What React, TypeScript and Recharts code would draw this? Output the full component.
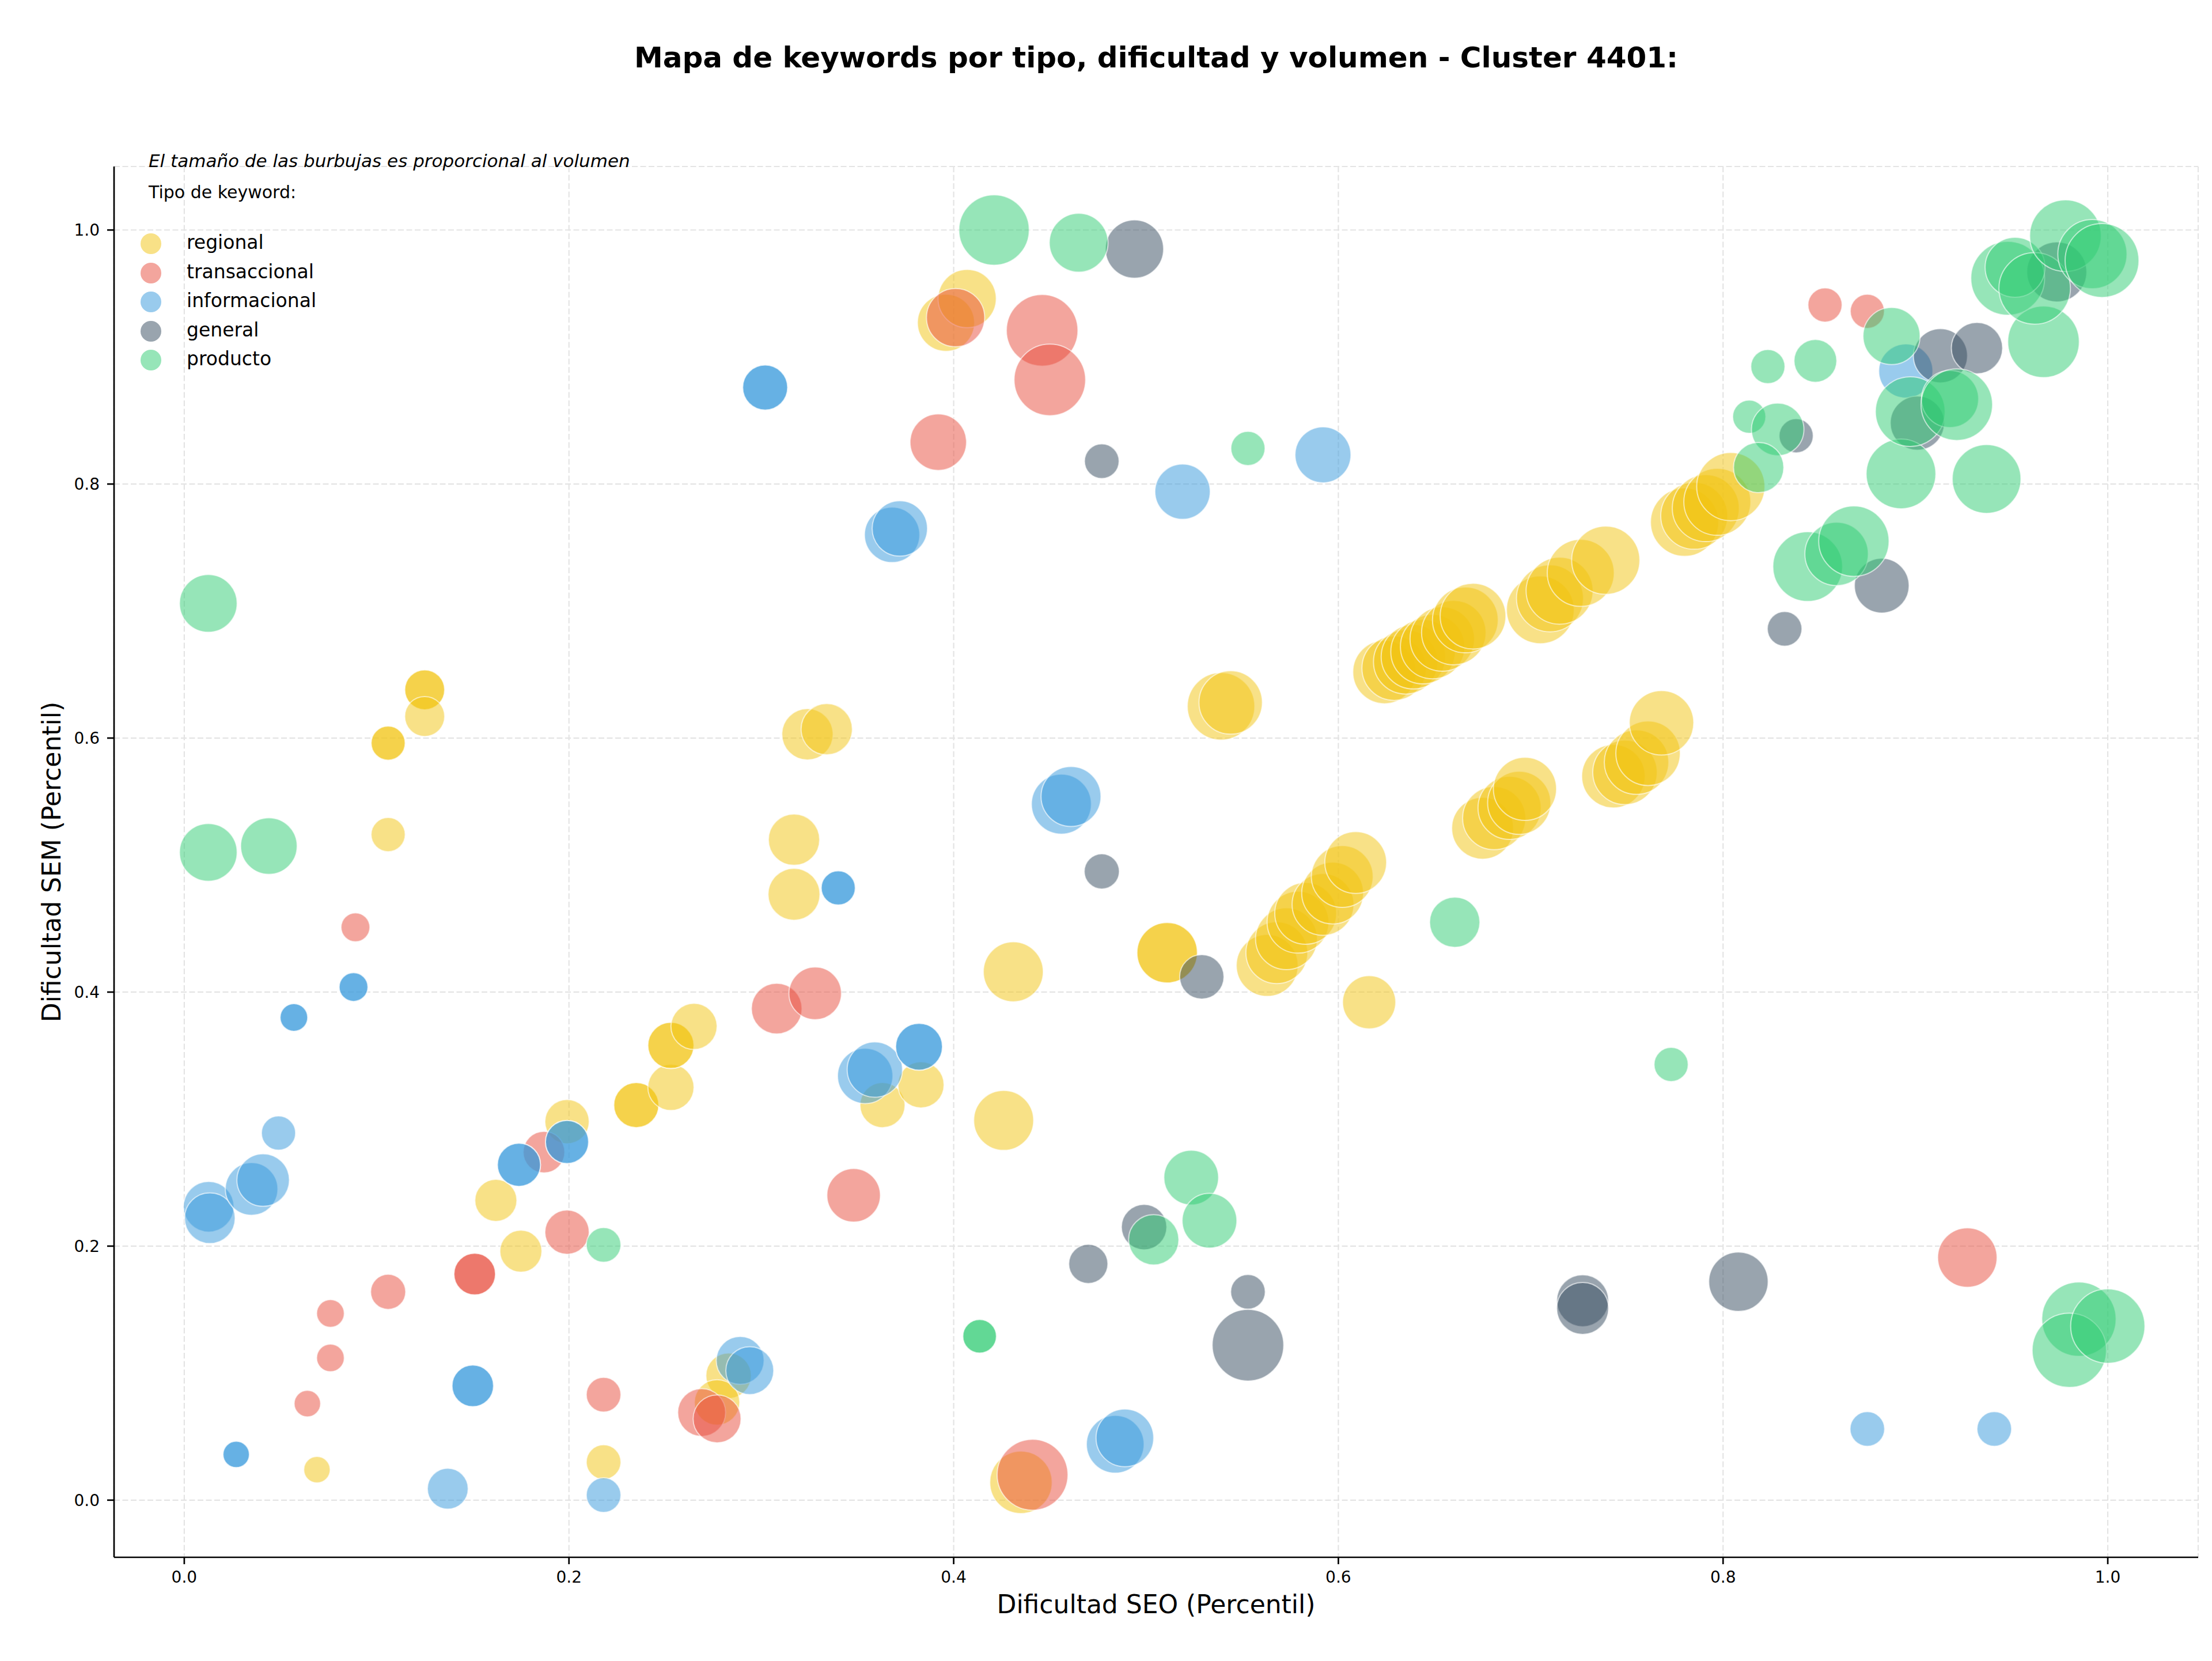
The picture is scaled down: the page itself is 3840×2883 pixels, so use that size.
import React from "react";
import {
  ScatterChart,
  Scatter,
  XAxis,
  YAxis,
  ZAxis,
  CartesianGrid,
  Legend,
} from "recharts";

// [dificultad SEO, dificultad SEM, volumen]
type Kw = [number, number, number];

const REGIONAL: Kw[] = [
  [0.069, 0.024, 210], [0.106, 0.596, 350], [0.106, 0.596, 350], [0.106, 0.524, 350],
  [0.125, 0.638, 480], [0.125, 0.638, 480], [0.125, 0.617, 480], [0.162, 0.236, 530],
  [0.175, 0.196, 530], [0.199, 0.298, 590], [0.235, 0.311, 610], [0.235, 0.311, 610],
  [0.253, 0.325, 640], [0.253, 0.358, 640], [0.253, 0.358, 640], [0.265, 0.373, 640],
  [0.283, 0.098, 620], [0.277, 0.077, 620], [0.218, 0.030, 360], [0.317, 0.520, 790],
  [0.317, 0.477, 810], [0.324, 0.603, 790], [0.334, 0.607, 790], [0.363, 0.311, 610],
  [0.383, 0.327, 640], [0.396, 0.927, 980], [0.407, 0.946, 1020], [0.426, 0.299, 1080],
  [0.431, 0.416, 1080], [0.435, 0.014, 1170], [0.511, 0.431, 1100], [0.511, 0.431, 1100],
  [0.539, 0.625, 1370], [0.544, 0.628, 1210], [0.616, 0.392, 850],
  [0.563, 0.421, 1150], [0.568, 0.431, 1150], [0.573, 0.442, 1150], [0.579, 0.455, 1150],
  [0.583, 0.462, 1150], [0.592, 0.469, 1150], [0.597, 0.478, 1150], [0.602, 0.491, 1150],
  [0.609, 0.502, 1150],
  [0.675, 0.529, 1150], [0.681, 0.537, 1200], [0.689, 0.545, 1200], [0.694, 0.549, 1200],
  [0.697, 0.560, 1200],
  [0.743, 0.570, 1210], [0.749, 0.573, 1250], [0.755, 0.581, 1250], [0.761, 0.588, 1250],
  [0.768, 0.612, 1250],
  [0.624, 0.652, 1210], [0.629, 0.655, 1250], [0.635, 0.660, 1250], [0.639, 0.664, 1250],
  [0.644, 0.668, 1250], [0.649, 0.672, 1250], [0.654, 0.678, 1250], [0.660, 0.683, 1250],
  [0.666, 0.693, 1300], [0.670, 0.696, 1300],
  [0.705, 0.701, 1380], [0.710, 0.710, 1350], [0.715, 0.716, 1350], [0.726, 0.730, 1350],
  [0.739, 0.740, 1400],
  [0.780, 0.770, 1400], [0.785, 0.775, 1350], [0.791, 0.781, 1350], [0.797, 0.786, 1350],
  [0.804, 0.798, 1400],
];

const TRANSACCIONAL: Kw[] = [
  [0.064, 0.076, 210], [0.076, 0.112, 230], [0.076, 0.147, 230], [0.089, 0.451, 250],
  [0.106, 0.164, 370], [0.151, 0.178, 520], [0.151, 0.178, 520], [0.187, 0.274, 520],
  [0.199, 0.211, 590], [0.218, 0.083, 360], [0.269, 0.069, 690], [0.277, 0.064, 690],
  [0.308, 0.387, 770], [0.328, 0.399, 830], [0.348, 0.240, 860], [0.392, 0.833, 960],
  [0.401, 0.931, 1020], [0.446, 0.921, 1540], [0.450, 0.882, 1540], [0.441, 0.020, 1510],
  [0.853, 0.941, 350], [0.875, 0.936, 350], [0.927, 0.191, 1060],
];

const INFORMACIONAL: Kw[] = [
  [0.027, 0.036, 210], [0.027, 0.036, 210], [0.057, 0.380, 230], [0.057, 0.380, 230],
  [0.088, 0.404, 250], [0.088, 0.404, 250], [0.049, 0.289, 350],
  [0.0127, 0.231, 770], [0.0133, 0.222, 770], [0.035, 0.245, 830], [0.041, 0.252, 830],
  [0.137, 0.009, 500], [0.150, 0.090, 520], [0.150, 0.090, 520],
  [0.174, 0.264, 560], [0.174, 0.264, 560], [0.199, 0.282, 560], [0.199, 0.282, 560],
  [0.218, 0.004, 360], [0.289, 0.110, 690], [0.294, 0.102, 690],
  [0.302, 0.876, 610], [0.302, 0.876, 610], [0.340, 0.482, 350], [0.340, 0.482, 350],
  [0.354, 0.334, 920], [0.359, 0.339, 920], [0.382, 0.357, 660], [0.382, 0.357, 660],
  [0.368, 0.760, 920], [0.372, 0.765, 920], [0.456, 0.548, 1080], [0.461, 0.554, 1080],
  [0.519, 0.794, 920], [0.592, 0.823, 940], [0.484, 0.044, 1000], [0.489, 0.049, 1000],
  [0.875, 0.056, 360], [0.941, 0.056, 360], [0.895, 0.889, 880],
];

const GENERAL: Kw[] = [
  [0.477, 0.818, 360], [0.494, 0.985, 1020], [0.477, 0.495, 370], [0.529, 0.412, 590],
  [0.470, 0.186, 460], [0.499, 0.215, 620], [0.553, 0.164, 360], [0.553, 0.122, 1540],
  [0.727, 0.157, 810], [0.727, 0.151, 810], [0.808, 0.172, 1060], [0.832, 0.686, 360],
  [0.838, 0.838, 350], [0.8825, 0.720, 900], [0.901, 0.848, 880], [0.913, 0.901, 880],
  [0.932, 0.907, 790], [0.9735, 0.967, 1080],
];

const PRODUCTO: Kw[] = [
  [0.0125, 0.706, 1000], [0.0125, 0.510, 1000], [0.044, 0.515, 960], [0.218, 0.201, 360],
  [0.4135, 0.129, 340], [0.4135, 0.129, 340], [0.421, 1.0, 1490], [0.465, 0.990, 1040],
  [0.553, 0.828, 350], [0.5235, 0.254, 900], [0.533, 0.220, 900], [0.504, 0.205, 760],
  [0.6605, 0.455, 760], [0.773, 0.343, 350], [0.8233, 0.8925, 350], [0.848, 0.897, 550],
  [0.8136, 0.853, 330], [0.8284, 0.843, 830], [0.8185, 0.813, 760], [0.8876, 0.9165, 980],
  [0.844, 0.735, 1460], [0.859, 0.745, 1210], [0.868, 0.755, 1490], [0.8925, 0.808, 1460],
  [0.937, 0.804, 1420], [0.8973, 0.857, 1460], [0.918, 0.867, 980], [0.9215, 0.8625, 1540],
  [0.9666, 0.912, 1540], [0.948, 0.962, 1640], [0.9518, 0.9706, 1080], [0.962, 0.954, 1540],
  [0.978, 0.9955, 1540], [0.992, 0.981, 1440], [0.997, 0.976, 1640],
  [0.985, 0.1425, 1660], [0.980, 0.118, 1660], [1.0, 0.137, 1660],
];

const TYPES = ["regional", "transaccional", "informacional", "general", "producto"];
const COLORS = ["#f1c40f", "#e74c3c", "#3498db", "#34495e", "#2ecc71"];
const SERIES = [REGIONAL, TRANSACCIONAL, INFORMACIONAL, GENERAL, PRODUCTO];
const TICKS = [0, 0.2, 0.4, 0.6, 0.8, 1.0];

const FONT = "'DejaVu Sans', sans-serif";
// bubble area in px^2 per unit of volumen
const AREA_PER_VOL = (10 * Math.PI) / 4;

const toRows = (pts: Kw[]) => pts.map(([x, y, v]) => ({ x, y, v }));

const bubble = (color: string) => (p: any) => {
  const r = p.width ? p.width / 2 : Math.sqrt((p.size || 0) / Math.PI);
  return (
    <circle
      cx={p.cx}
      cy={p.cy}
      r={r}
      fill={color}
      fillOpacity={0.5}
      stroke="#ffffff"
      strokeOpacity={0.6}
      strokeWidth={2}
    />
  );
};

const KeywordLegend = () => (
  <div style={{ position: "relative", width: 900, height: 700, fontFamily: FONT, color: "#000" }}>
    <div
      style={{
        position: "absolute", left: 258, top: 264, fontSize: 31, lineHeight: 1,
        fontStyle: "italic", whiteSpace: "nowrap",
      }}
    >
      El tamaño de las burbujas es proporcional al volumen
    </div>
    <div style={{ position: "absolute", left: 258, top: 319, fontSize: 30, lineHeight: 1, whiteSpace: "nowrap" }}>
      Tipo de keyword:
    </div>
    {TYPES.map((t, i) => (
      <React.Fragment key={t}>
        <span
          style={{
            position: "absolute", left: 244, top: 405 + i * 50.5, width: 36, height: 36,
            borderRadius: "50%", background: COLORS[i], opacity: 0.5,
          }}
        />
        <span
          style={{
            position: "absolute", left: 324, top: 404 + i * 50.5, fontSize: 33, lineHeight: 1,
            whiteSpace: "nowrap",
          }}
        >
          {t}
        </span>
      </React.Fragment>
    ))}
  </div>
);

export default function App() {
  return (
    <div
      style={{
        position: "absolute", left: 0, top: 0, width: 3840, height: 2883,
        background: "#fff", overflow: "hidden", fontFamily: FONT,
      }}
    >
      <div
        style={{
          position: "absolute", left: 198, top: 75, width: 3618, textAlign: "center",
          fontSize: 50, fontWeight: "bold", lineHeight: 1, color: "#000", whiteSpace: "nowrap",
        }}
      >
        Mapa de keywords por tipo, dificultad y volumen - Cluster 4401:
      </div>
      <ScatterChart
        width={3840}
        height={2883}
        margin={{ top: 289, right: 24, bottom: 0, left: 0 }}
        style={{ position: "absolute", left: 0, top: 0 }}
      >
        <CartesianGrid stroke="#e4e4e4" strokeDasharray="10 4.5" strokeWidth={2.2} />
        <XAxis
          type="number"
          dataKey="x"
          domain={[-0.0365, 1.047]}
          allowDataOverflow
          ticks={TICKS}
          tickFormatter={(v: number) => v.toFixed(1)}
          height={180}
          tickSize={12}
          tickMargin={12}
          axisLine={{ stroke: "#000", strokeWidth: 2.7 }}
          tickLine={{ stroke: "#000", strokeWidth: 2.7 }}
          tick={{ fill: "#000", fontSize: 28, fontFamily: FONT }}
          label={{
            value: "Dificultad SEO (Percentil)",
            position: "insideBottom",
            offset: 83,
            style: { fill: "#000", fontSize: 44, fontFamily: FONT },
          }}
        />
        <YAxis
          type="number"
          dataKey="y"
          domain={[-0.045, 1.05]}
          allowDataOverflow
          ticks={TICKS}
          tickFormatter={(v: number) => v.toFixed(1)}
          width={198}
          tickSize={12}
          tickMargin={13}
          axisLine={{ stroke: "#000", strokeWidth: 2.7 }}
          tickLine={{ stroke: "#000", strokeWidth: 2.7 }}
          tick={{ fill: "#000", fontSize: 28, fontFamily: FONT }}
          label={{
            value: "Dificultad SEM (Percentil)",
            angle: -90,
            position: "insideLeft",
            offset: 89,
            style: { fill: "#000", fontSize: 44, fontFamily: FONT, textAnchor: "middle" },
          }}
        />
        <ZAxis type="number" dataKey="v" domain={[0, 2000]} range={[0, 2000 * AREA_PER_VOL]} />
        <Legend
          layout="vertical"
          align="center"
          verticalAlign="middle"
          content={() => <KeywordLegend />}
          wrapperStyle={{ left: 0, top: 0, width: 900, height: 700 }}
        />
        {SERIES.map((pts, i) => (
          <Scatter
            key={TYPES[i]}
            name={TYPES[i]}
            data={toRows(pts)}
            fill={COLORS[i]}
            shape={bubble(COLORS[i])}
            isAnimationActive={false}
          />
        ))}
      </ScatterChart>
    </div>
  );
}
